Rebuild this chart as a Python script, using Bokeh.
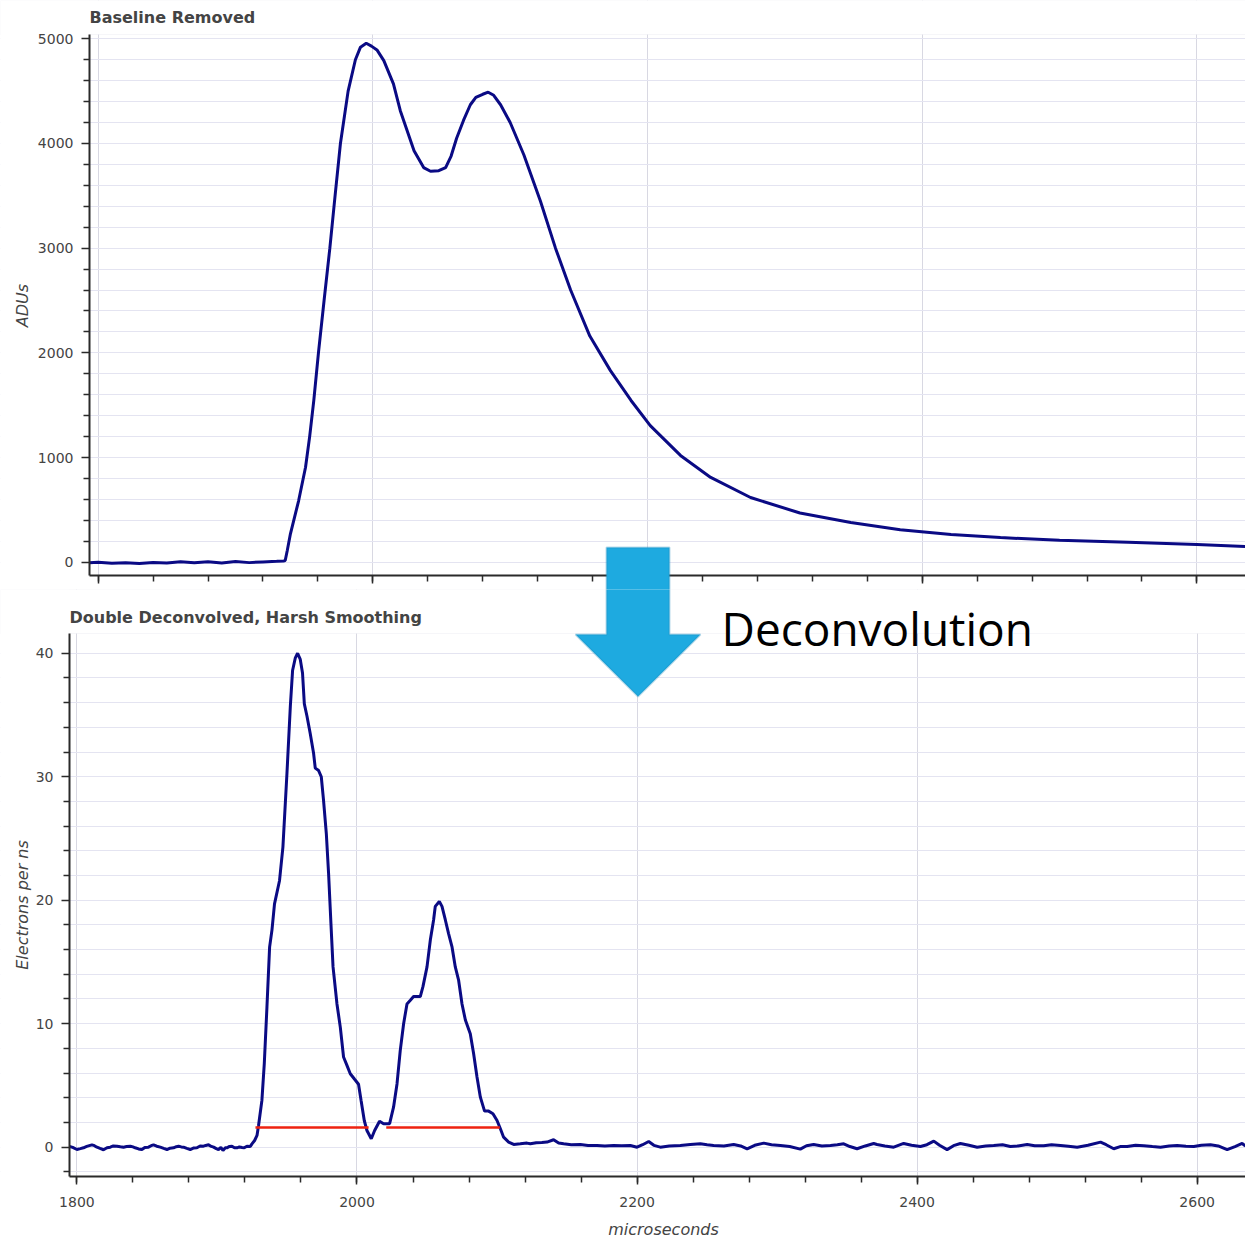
import math

from bokeh.plotting import figure
from bokeh.layouts import column
from bokeh.models import (Range1d, SingleIntervalTicker, FixedTicker, PolyAnnotation,
                          BoxAnnotation, Label, LinearAxis, CustomJSTickFormatter)
from bokeh.embed import file_html
from bokeh.resources import INLINE

# ---- Raw waveform, baseline removed (ADU) ----
raw_t = [1793.7, 1800, 1810, 1820, 1830, 1840, 1850, 1860, 1870, 1880, 1890, 1900,
         1910, 1920, 1930, 1935, 1936.2, 1937.7, 1940, 1946, 1951, 1954, 1957, 1960.4,
         1964.5, 1968.7, 1972.5, 1976.4, 1982, 1987.3, 1991, 1995.2, 1999, 2003, 2008,
         2015, 2020, 2030, 2037, 2042, 2048, 2053, 2057, 2061, 2066, 2071, 2075, 2080,
         2084, 2088, 2093, 2100, 2110, 2122, 2133, 2144, 2158, 2173, 2188, 2202, 2224,
         2246, 2275, 2311, 2348, 2384, 2421, 2457, 2500, 2550, 2600, 2635.4]
raw_adu = [-5, 0, -10, -5, -12, -3, -8, 5, -6, 4, -8, 6,
           -4, 3, 8, 12, 16, 112, 271, 589, 907, 1200, 1544, 2000,
           2500, 3000, 3500, 4000, 4500, 4800, 4920, 4957, 4930, 4894, 4792,
           4569, 4313, 3931, 3770, 3735, 3740, 3770, 3880, 4050, 4220, 4370, 4440, 4470,
           4490, 4460, 4370, 4200, 3890, 3450, 3000, 2600, 2160, 1830, 1545, 1305, 1020,
           810, 618, 470, 380, 310, 265, 235, 210, 190, 170, 150]

# ---- Double-deconvolved signal (electrons per ns) ----
dec_t = [1794.7, 1797, 1800, 1802.5, 1804.7, 1807, 1810.7, 1812.5, 1814.3, 1816.5,
         1819, 1821.5, 1823.8, 1826, 1828.6, 1831, 1833.3, 1835.5, 1838.1, 1840,
         1841.6, 1844, 1846.4, 1848.5, 1851.1, 1853, 1854.7, 1857, 1859.5, 1862,
         1864.3, 1866.5, 1869, 1871, 1872.6, 1874.5, 1876.1, 1878.5, 1880.9, 1883.5,
         1885.7, 1888, 1890.4, 1892, 1894, 1896, 1897.6, 1899.5, 1901.1, 1902.8,
         1904.3, 1906, 1907.1, 1909, 1910.7, 1912.5, 1914.3, 1916, 1917.9, 1919.5,
         1921.4, 1923.8, 1925, 1926.9, 1928.6, 1929.7, 1932.1, 1933.8, 1935.7, 1937.6,
         1939.3, 1941.1, 1944.7, 1947.1, 1950.0, 1952.4, 1954.0, 1955.9, 1957.6, 1959.5,
         1961.1, 1962.4, 1964.3, 1966.6, 1969.0, 1970.2, 1972.6, 1974.5, 1976.1, 1978.1,
         1979.7, 1981.4, 1982.9, 1985.7, 1988.1, 1990.4, 1992.9, 1995.2, 1998.3, 2001.1,
         2002.9, 2005.2, 2007.1, 2010.2, 2012.6, 2016.1, 2019.0, 2023.3, 2026.1, 2028.6,
         2030.9, 2033.3, 2035.7, 2038.1, 2040.4, 2045.2, 2047.1, 2050.0, 2052.4, 2054.7,
         2055.9, 2058.8, 2060.7, 2063.1, 2065.4, 2067.9, 2070.2, 2072.6, 2075.0, 2077.4,
         2080.9, 2083.3, 2085.7, 2088.1, 2091.1, 2094.0, 2097.1, 2100.0, 2102.4, 2104.7,
         2108.3, 2111.9, 2116.6, 2121.4, 2123.8, 2128, 2132, 2135.7, 2140.4, 2144,
         2147.6, 2153, 2159.5, 2165, 2171.4, 2177, 2183.3, 2189, 2195.2, 2200,
         2204, 2208.3, 2212, 2216.6, 2223, 2230.9, 2238, 2245.2, 2250, 2254.7,
         2262, 2269, 2274, 2278.6, 2284, 2290.5, 2296, 2302.4, 2309, 2316.6,
         2321, 2326.1, 2332, 2338.1, 2343, 2347.6, 2352, 2357.1, 2363, 2369,
         2371.4, 2377, 2383.3, 2390.4, 2396, 2402.4, 2407, 2411.9, 2416, 2421.4,
         2426, 2430.9, 2437, 2442.9, 2449, 2454.7, 2461, 2466.6, 2472, 2478.6,
         2484, 2490.4, 2496, 2502.4, 2508, 2514.3, 2522, 2531.0, 2535, 2540.4,
         2545, 2550.0, 2556, 2561.9, 2568, 2573.8, 2580, 2585.7, 2592, 2597.6,
         2603, 2609.5, 2615, 2621.4, 2627, 2632.1, 2634.5]
dec_val = [0.05, -0.02, -0.19, -0.12, -0.05, 0.06, 0.19, 0.12, 0.0, -0.1,
           -0.21, -0.05, 0.0, 0.1, 0.08, 0.03, 0.0, 0.06, 0.08, 0.02,
           -0.05, -0.14, -0.19, -0.02, 0.0, 0.12, 0.19, 0.08, 0.0, -0.1,
           -0.19, -0.08, -0.05, 0.04, 0.08, 0.02, 0.0, -0.1, -0.19, -0.06,
           -0.05, 0.1, 0.08, 0.14, 0.19, 0.06, 0.0, -0.12, -0.19, -0.02,
           -0.27, -0.05, -0.05, 0.06, 0.08, -0.05, -0.05, 0.02, -0.02, -0.05,
           0.08, 0.05, 0.27, 0.54, 0.95, 1.76, 3.79, 6.76, 11.35, 16.2,
           17.6, 19.7, 21.6, 24.3, 30.3, 35.7, 38.6, 39.6, 40.0, 39.5,
           38.4, 35.9, 34.9, 33.5, 31.9, 30.7, 30.5, 30.0, 28.1, 25.4,
           22.2, 18.1, 14.6, 11.6, 9.7, 7.3, 6.6, 5.95, 5.5, 5.1,
           3.8, 2.16, 1.35, 0.68, 1.35, 2.1, 1.9, 1.9, 3.24, 5.14,
           7.84, 10.0, 11.6, 11.9, 12.2, 12.2, 13.0, 14.6, 16.8, 18.4,
           19.5, 19.9, 19.5, 18.4, 17.3, 16.2, 14.6, 13.5, 11.6, 10.3,
           9.19, 7.57, 5.68, 4.05, 2.92, 2.92, 2.71, 2.16, 1.49, 0.81,
           0.41, 0.22, 0.27, 0.33, 0.27, 0.35, 0.38, 0.41, 0.6, 0.33,
           0.27, 0.2, 0.22, 0.14, 0.14, 0.1, 0.14, 0.12, 0.14, 0.0,
           0.2, 0.46, 0.15, 0.0, 0.1, 0.14, 0.22, 0.27, 0.2, 0.14,
           0.1, 0.22, 0.1, -0.13, 0.15, 0.33, 0.2, 0.14, 0.05, -0.16,
           0.12, 0.22, 0.1, 0.14, 0.2, 0.27, 0.05, -0.13, 0.1, 0.3,
           0.22, 0.1, 0.0, 0.3, 0.15, 0.06, 0.2, 0.49, 0.15, -0.2,
           0.12, 0.3, 0.15, 0.0, 0.1, 0.14, 0.2, 0.06, 0.1, 0.22,
           0.12, 0.11, 0.2, 0.14, 0.08, 0.0, 0.15, 0.41, 0.2, -0.13,
           0.05, 0.06, 0.15, 0.11, 0.05, 0.0, 0.1, 0.14, 0.08, 0.06,
           0.15, 0.19, 0.1, -0.2, 0.05, 0.3, 0.1]

# ---- Integration windows marked under the two pulses ----
win_start = [1927.5, 2020.9]
win_end = [2008.3, 2102.0]
win_level = [1.6, 1.6]

# ---- Axis ticks ----
adu_major = [0, 1000, 2000, 3000, 4000, 5000]
adu_minor = [200, 400, 600, 800, 1200, 1400, 1600, 1800, 2200, 2400, 2600, 2800,
             3200, 3400, 3600, 3800, 4200, 4400, 4600, 4800]
ele_major = [0, 10, 20, 30, 40]
ele_minor = [-2, 2, 4, 6, 8, 12, 14, 16, 18, 22, 24, 26, 28, 32, 34, 36, 38]

# visible data span of each panel's axes
T_SPAN_TOP = (1793.7, 2635.4)
ADU_SPAN = (-127, 5041)
T_SPAN_BOT = (1794.7, 2634.5)
ELE_SPAN = (-2.375, 41.6)

# page layout in pixels: each canvas is one big plot area, the axes sit inside it
W = 1245
TOP_H = 590
OVERLAP = 1                  # lower canvas tucks under the upper one by this much
BOT_Y0 = TOP_H - OVERLAP
BOT_H = 1238 - BOT_Y0
TOP_BOX = (89, 34, 575)      # axis x, top, bottom of the raw-waveform axes (page y)
BOT_BOX = (69, 633, 1176)    # the same for the deconvolved axes (page y)

LINE = "#0a0a84"
GRID_H = "#e4e4f1"
GRID_V = "#d8d8e2"
EDGE = "#e2e2ea"
TXT = "#444444"
FONT = "DejaVu Sans"
ARROW_FILL = "#1eaae0"
ARROW_EDGE = "#1a88b8"

# Block arrow linking the two panels, in page pixels
ARROW_X = [606, 669, 669, 700, 637.5, 575, 606]
ARROW_Y = [547, 547, 634, 634, 696, 634, 634]


class PageMap:
    """Converts page pixels to data values for one canvas."""

    def __init__(self, tspan, vspan, box, y0, height):
        left, top_px, bot_px = box
        self.tspan, self.vspan, self.left, self.bot_px, self.y0 = tspan, vspan, left, bot_px, y0
        self.tpp = (tspan[1] - tspan[0]) / (W - left)
        self.vpp = (vspan[1] - vspan[0]) / (bot_px - top_px)
        self.x_range = Range1d(tspan[0] - left * self.tpp, tspan[1])
        self.y_range = Range1d(vspan[0] - (y0 + height - bot_px) * self.vpp,
                               vspan[1] + (top_px - y0) * self.vpp)

    def x(self, px):
        return self.tspan[0] + (px - self.left) * self.tpp

    def y(self, py):
        return self.vspan[0] + (self.bot_px - py) * self.vpp


def style(p, yticker, tspan, vspan):
    p.background_fill_color = "white"
    p.border_fill_color = "white"
    p.outline_line_color = None

    xt = SingleIntervalTicker(interval=200, num_minor_ticks=5)
    p.xaxis.ticker = xt
    p.xgrid.ticker = xt
    p.yaxis.ticker = yticker
    p.ygrid.ticker = yticker

    p.xgrid.grid_line_color = GRID_V
    p.xgrid.grid_line_width = 1
    p.ygrid.grid_line_color = GRID_H
    p.ygrid.minor_grid_line_color = GRID_H
    p.ygrid.grid_line_width = 1

    p.xaxis.fixed_location = vspan[0]
    p.xaxis.bounds = tspan
    p.yaxis.fixed_location = tspan[0]
    p.yaxis.bounds = vspan

    for ax in (p.xaxis[0], p.yaxis[0]):
        ax.axis_line_color = "#2a2a2a"
        ax.axis_line_width = 2
        ax.major_tick_line_color = "#2a2a2a"
        ax.minor_tick_line_color = "#2a2a2a"
        ax.major_tick_line_width = 1.5
        ax.minor_tick_line_width = 1.5
        ax.major_tick_in = 0
        ax.minor_tick_in = 0
        ax.major_tick_out = 8
        ax.minor_tick_out = 6
        ax.major_label_text_font = FONT
        ax.major_label_text_font_size = "14px"
        ax.major_label_text_color = TXT
        ax.major_label_standoff = 8

    # white masks keep the grid inside the axes; the top one carries the frame edge
    p.add_layout(BoxAnnotation(bottom=vspan[1], fill_color="white", fill_alpha=1.0,
                               line_color=EDGE, line_width=1, level="glyph"))
    p.add_layout(BoxAnnotation(top=vspan[0], fill_color="white", fill_alpha=1.0,
                               line_color=None, level="glyph"))
    p.add_layout(BoxAnnotation(right=tspan[0], fill_color="white", fill_alpha=1.0,
                               line_color=None, level="glyph"))


def text(p, s, x, y, size="16px", style_="normal", angle=0.0, align="left",
         baseline="alphabetic", font=FONT, color=TXT, level="annotation"):
    p.add_layout(Label(x=x, y=y, x_units="canvas", y_units="canvas", text=s,
                       text_font=font, text_font_size=size, text_font_style=style_,
                       text_color=color, angle=angle, text_align=align,
                       text_baseline=baseline, level=level))


def arrow(p, pm, shaft_from, shaft_to):
    dy = pm.y0
    p.add_layout(PolyAnnotation(xs=ARROW_X, ys=[y - dy for y in ARROW_Y],
                                xs_units="canvas", ys_units="canvas",
                                fill_color=ARROW_FILL, fill_alpha=1.0,
                                line_color=ARROW_EDGE, line_width=2, level="overlay"))
    # solid shaft band drawn as a wide, tick-less axis line so it runs to the canvas edge
    shaft = LinearAxis(fixed_location=pm.x((ARROW_X[0] + ARROW_X[1]) / 2),
                       bounds=(pm.y(shaft_to), pm.y(shaft_from)),
                       ticker=FixedTicker(ticks=[]),
                       axis_line_color=ARROW_FILL, axis_line_width=ARROW_X[1] - ARROW_X[0] - 2,
                       axis_line_cap="butt",
                       major_tick_line_color=None, minor_tick_line_color=None,
                       level="overlay")
    p.add_layout(shaft, "left")


def make_figure(height, pm):
    return figure(width=W, height=height, x_range=pm.x_range, y_range=pm.y_range,
                  output_backend="svg", toolbar_location=None,
                  min_border_left=0, min_border_right=0,
                  min_border_top=0, min_border_bottom=0)


# ---------------- raw waveform panel ----------------
pm_top = PageMap(T_SPAN_TOP, ADU_SPAN, TOP_BOX, 0, TOP_H)
top = make_figure(TOP_H, pm_top)
style(top, FixedTicker(ticks=adu_major, minor_ticks=adu_minor), T_SPAN_TOP, ADU_SPAN)
top.xaxis.formatter = CustomJSTickFormatter(code="return ''")
top.xaxis.major_label_standoff = 0
top.line(raw_t, raw_adu, line_color=LINE, line_width=3)
text(top, "Baseline Removed", 89, 17, style_="bold")
text(top, "ADUs", 22, 305, style_="italic", angle=math.pi / 2,
     align="center", baseline="middle")
arrow(top, pm_top, 549, TOP_H + 10)

# ---------------- deconvolved panel ----------------
pm_bot = PageMap(T_SPAN_BOT, ELE_SPAN, BOT_BOX, BOT_Y0, BOT_H)
bot = make_figure(BOT_H, pm_bot)
bot.margin = (-OVERLAP, 0, 0, 0)
style(bot, FixedTicker(ticks=ele_major, minor_ticks=ele_minor), T_SPAN_BOT, ELE_SPAN)
bot.xaxis.major_label_standoff = 12
bot.line(dec_t, dec_val, line_color=LINE, line_width=3)
bot.segment(x0=win_start, y0=win_level, x1=win_end, y1=win_level,
            line_color="#ee2211", line_width=2.5)
text(bot, "Double Deconvolved, Harsh Smoothing", 69, 617 - BOT_Y0, style_="bold")
text(bot, "Electrons per ns", 22, 904.5 - BOT_Y0, style_="italic", angle=math.pi / 2,
     align="center", baseline="middle")
text(bot, "microseconds", 663, 1229 - BOT_Y0, style_="italic",
     align="center", baseline="middle")
arrow(bot, pm_bot, BOT_Y0 - 10, 640)
text(bot, "Deconvolution", 721, 627 - BOT_Y0, size="46px", font="Open Sans",
     color="black", level="overlay")

open("out.html", "w").write(file_html(column(top, bot, spacing=0), INLINE))
